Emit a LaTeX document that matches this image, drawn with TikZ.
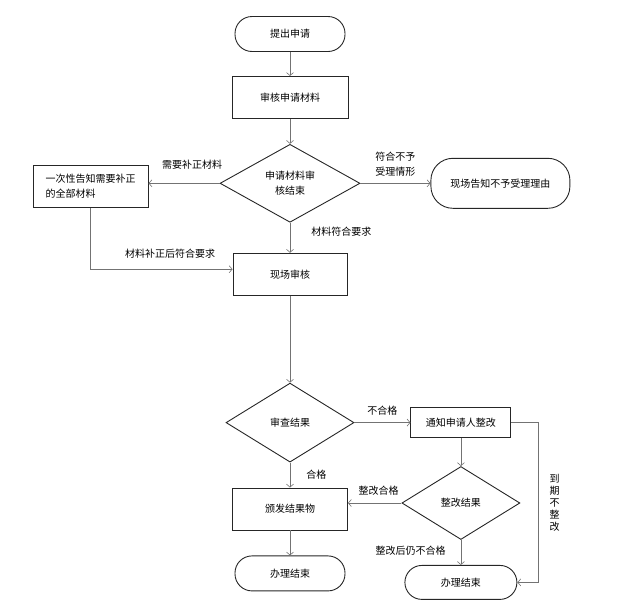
\documentclass[tikz,border=0pt]{standalone}
\usepackage{fontspec}
\setmainfont{Noto Sans CJK SC}
\usetikzlibrary{shapes.geometric, arrows.meta, positioning}

\begin{document}
\begin{tikzpicture}[
    x=1pt, y=1pt,
    node distance=25pt and 70pt,
    font=\fontsize{10pt}{15pt}\selectfont,
    terminal/.style={draw=black!85, line width=0.9pt, rounded corners=17pt, minimum width=110pt, minimum height=35pt, inner sep=0pt, align=center},
    box/.style={draw=black!85, line width=0.9pt, rectangle, minimum width=115pt, minimum height=42pt, inner sep=0pt, align=center},
    decision/.style={draw=black!85, line width=0.9pt, diamond, aspect=1.8, inner sep=0pt, align=center},
    arrow/.style={draw=black!55, line width=0.6pt, -{Straight Barb[length=3pt, width=7pt]}},
    every label/.style={inner sep=1pt}
]

\useasboundingbox (0,0) rectangle (620,-600);

\node[terminal] (start) at (290,-34) {提出申请};
\node[box, below=24pt of start, minimum width=116pt] (check) {审核申请材料};
\node[decision, below=25pt of check, minimum width=140pt, minimum height=78pt] (verdict) {申请材料审\\核结束};
\node[box, left=71pt of verdict, yshift=-3pt, align=left] (notify) {一次性告知需要补正\\的全部材料};
\node[terminal, right=70pt of verdict, minimum width=139pt, minimum height=50pt, rounded corners=22pt] (refuse) {现场告知不予受理理由};
\node[box, below=30pt of verdict, minimum width=114pt] (onsite) {现场审核};

\node[decision, below=87pt of onsite, minimum width=128pt, minimum height=79pt] (review) {审查结果};
\node[box, right=56pt of review, minimum width=100pt, minimum height=30pt] (rectify) {通知申请人整改};
\node[decision, below=28pt of rectify, minimum width=118pt, minimum height=73pt] (recheck) {整改结果};
\node[box, below=25pt of review] (issue) {颁发结果物};
\node[terminal, below=25pt of issue] (done) {办理结束};
\node[terminal, below=25pt of recheck, minimum width=112pt, minimum height=34pt] (closed) {办理结束};

\draw[arrow] (start) -- (check);
\draw[arrow] (check) -- (verdict);
\draw[arrow] (verdict.west) -- node[above=13pt, xshift=8pt, inner sep=1pt] {需要补正材料} (verdict.west -| notify.east);
\draw[arrow] (verdict.east) -- node[above=6pt, align=left, inner sep=1pt] {符合不予\\受理情形} (refuse.west);
\draw[arrow] (verdict) -- node[right=20pt, pos=0.3, inner sep=1pt] {材料符合要求} (onsite);
\draw[arrow] (notify) |- node[pos=0.78, above=10pt, inner sep=1pt] {材料补正后符合要求} ([yshift=5pt]onsite.west);

\draw[arrow] (onsite) -- (review);
\draw[arrow] (review) -- node[above=6pt, inner sep=1pt] {不合格} (rectify);
\draw[arrow] (review) -- node[right=15pt, inner sep=1pt] {合格} (issue);
\draw[arrow] (rectify) -- (recheck);
\draw[arrow] (recheck.west) -- node[above=6pt, xshift=4pt, inner sep=1pt] {整改合格} (recheck.west -| issue.east);
\draw[arrow] (recheck) -- node[left=14pt, pos=0.44, inner sep=1pt] {整改后仍不合格} (closed);
\draw[arrow] (issue) -- (done);
\draw[arrow] (rectify.east) -- ++(27pt,0) |- node[pos=0.25, right=10pt, align=center, inner sep=1pt, font=\fontsize{10pt}{12pt}\selectfont] {到\\期\\不\\整\\改} (closed.east);

\end{tikzpicture}
\end{document}
